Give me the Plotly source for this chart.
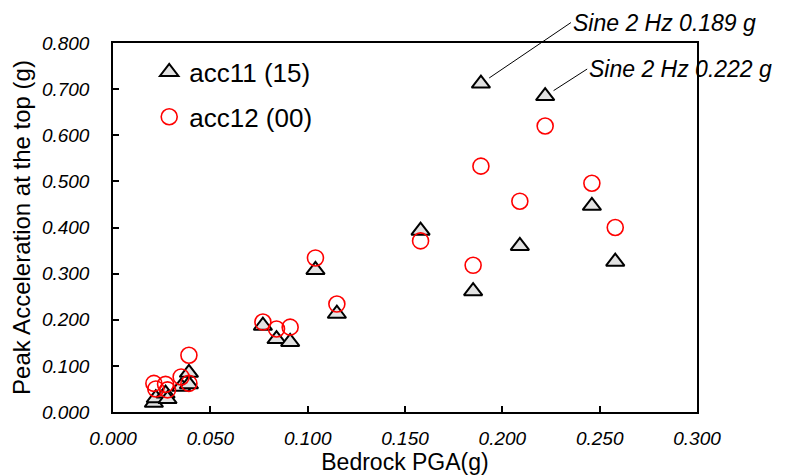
import plotly.graph_objects as go

# Data
bedrock_pga = [0.021, 0.022, 0.027, 0.028, 0.035, 0.039, 0.039,
               0.077, 0.084, 0.091, 0.104, 0.115, 0.158, 0.185,
               0.189, 0.209, 0.222, 0.246, 0.258]
acc11 = [0.020, 0.030, 0.040, 0.028, 0.055, 0.085, 0.060,
         0.187, 0.158, 0.152, 0.308, 0.213, 0.393, 0.262,
         0.712, 0.360, 0.685, 0.447, 0.326]
acc12 = [0.062, 0.050, 0.060, 0.048, 0.076, 0.123, 0.062,
         0.195, 0.180, 0.184, 0.334, 0.234, 0.371, 0.318,
         0.533, 0.457, 0.620, 0.496, 0.400]

x_ticks = [0.0, 0.05, 0.10, 0.15, 0.20, 0.25, 0.30]
y_ticks = [0.0, 0.1, 0.2, 0.3, 0.4, 0.5, 0.6, 0.7, 0.8]

names = ["acc11 (15)", "acc12 (00)"]
notes = [("Sine 2 Hz 0.189 g", 14), ("Sine 2 Hz 0.222 g", 16)]

FONT = "Liberation Sans, Arial, sans-serif"

fig = go.Figure()
fig.add_trace(go.Scatter(
    x=bedrock_pga, y=acc11, mode="markers", name=names[0], legendgroup="a",
    marker=dict(symbol="triangle-up", size=16, color="#e2e2e2",
                line=dict(color="black", width=2)),
))
fig.add_trace(go.Scatter(
    x=bedrock_pga, y=acc12, mode="markers", name=names[1], legendgroup="b",
    marker=dict(symbol="circle-open", size=16, color="#ff0000",
                line=dict(color="#ff0000", width=1.6)),
))

ann_offsets = [(90, -61), (42, -27)]
for (txt, idx), (ax, ay) in zip(notes, ann_offsets):
    fig.add_annotation(
        x=bedrock_pga[idx], y=acc11[idx], xref="x", yref="y",
        text=txt, showarrow=True, arrowhead=0, arrowwidth=1, arrowcolor="black",
        ax=ax, ay=ay, standoff=10, xanchor="left", yanchor="middle",
        font=dict(family=FONT, size=23, color="black", style="italic"),
    )

axis_common = dict(
    showline=True, linecolor="black", linewidth=1.5, mirror=True,
    ticks="inside", ticklen=6, tickwidth=1.5, tickcolor="black",
    showgrid=False, zeroline=False,
    tickfont=dict(family=FONT, size=19, color="black", style="italic"),
)

fig.update_xaxes(
    range=[0, 0.3], tickvals=x_ticks, tickformat=".3f",
    title=dict(text="Bedrock PGA(g)", font=dict(family=FONT, size=23, color="black"), standoff=4),
    ticklabelstandoff=8,
    **axis_common,
)
fig.update_yaxes(
    range=[0, 0.8], tickvals=y_ticks, tickformat=".3f",
    title=dict(text="Peak Acceleration at the top (g)", font=dict(family=FONT, size=24, color="black"), standoff=5),
    ticklabelstandoff=18,
    **axis_common,
)

fig.update_layout(
    width=792, height=476,
    margin=dict(l=113, r=95, t=43, b=64, autoexpand=False),
    paper_bgcolor="white", plot_bgcolor="white",
    font=dict(family=FONT, color="black"),
    showlegend=True,
    legend=dict(x=0.062, y=0.985, xanchor="left", yanchor="top",
                font=dict(family=FONT, size=26, color="black"),
                bgcolor="rgba(0,0,0,0)", tracegroupgap=8,
                traceorder="grouped"),
)

fig.write_html("out.html")
